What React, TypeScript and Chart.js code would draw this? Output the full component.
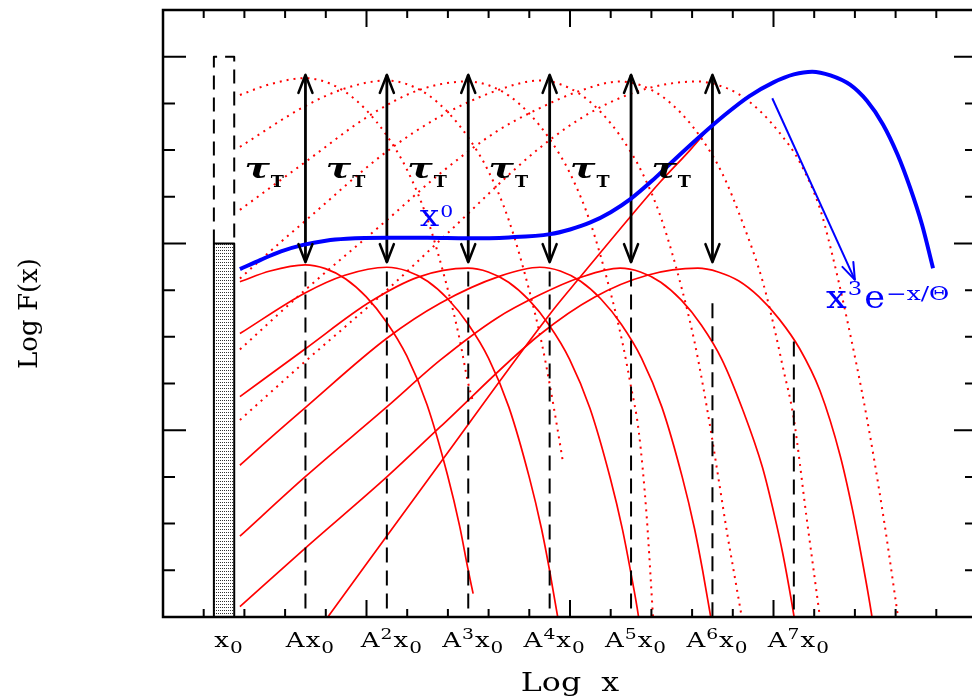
import React, { useEffect, useRef } from 'react';
import { Chart, registerables } from 'chart.js';
Chart.register(...registerables);

type P = [number, number];

// ---- axes (log units; minor tick = 1) ----
const X_MIN = 0, X_MAX = 20, Y_MIN = 0, Y_MAX = 13;
const X_MAJOR_EVERY = 5, Y_MAJOR_EVERY = 4;
const X_LABEL_POS = [1.5, 3.5, 5.5, 7.5, 9.5, 11.5, 13.5, 15.5];
const X_LABELS = ['x₀', 'Ax₀', 'A²x₀', 'A³x₀', 'A⁴x₀', 'A⁵x₀', 'A⁶x₀', 'A⁷x₀'];
const X_TITLE = 'Log  x';
const Y_TITLE = 'Log F(x)';

// ---- total (Comptonized) spectrum ----
const BLUE_TOTAL: P[] = [[1.89,7.45],[2.4,7.65],[2.9,7.83],[3.44,7.97],[4.0,8.06],[4.51,8.1],[5.5,8.12],[6.5,8.12],[7.46,8.11],[8.5,8.13],[9.51,8.2],[10.0,8.3],[10.5,8.45],[11.0,8.67],[11.5,8.96],[12.0,9.33],[12.5,9.74],[13.19,10.29],[13.8,10.75],[14.4,11.15],[15.0,11.45],[15.5,11.62],[15.95,11.68],[16.4,11.6],[16.88,11.4],[17.3,11.05],[17.69,10.55],[18.05,9.9],[18.35,9.21],[18.65,8.4],[18.92,7.47]];
const BLUE_POINTER: P[] = [[14.97,11.11],[17.0,7.22]];

// ---- k-th scattering order spectra (solid) ----
const SOLID_K1: P[] = [[1.89,7.18],[2.63,7.41],[3.49,7.54],[3.99,7.46],[4.49,7.24],[4.99,6.86],[5.49,6.32],[5.99,5.59],[6.49,4.54],[6.99,3.04],[7.29,1.94],[7.49,1.04],[7.62,0.5]];
const SOLID_K2: P[] = [[1.89,6.07],[3.49,6.94],[4.47,7.32],[5.50,7.49],[6.0,7.41],[6.5,7.19],[7.0,6.81],[7.5,6.27],[8.0,5.54],[8.5,4.49],[9.0,2.99],[9.3,1.89],[9.5,0.99],[9.7,-0.01],[9.83,-0.7]];
const SOLID_K3: P[] = [[1.89,4.72],[3.49,5.74],[5.09,6.75],[6.27,7.28],[7.49,7.47],[7.99,7.39],[8.49,7.17],[8.99,6.79],[9.49,6.25],[9.99,5.52],[10.49,4.47],[10.99,2.97],[11.29,1.87],[11.49,0.97],[11.69,-0.03],[11.8,-0.8]];
const SOLID_K4: P[] = [[1.89,3.25],[2.58,3.79],[3.49,4.48],[5.50,5.97],[6.81,6.72],[8.28,7.30],[9.26,7.49],[9.76,7.41],[10.26,7.19],[10.76,6.81],[11.26,6.27],[11.76,5.54],[12.26,4.49],[12.76,2.99],[13.06,1.89],[13.26,0.99],[13.46,-0.01],[13.6,-0.7]];
const SOLID_K5: P[] = [[1.89,1.73],[3.49,3.0],[5.50,4.5],[6.81,5.5],[8.2,6.4],[9.26,6.9],[10.25,7.27],[11.23,7.47],[11.73,7.39],[12.23,7.17],[12.73,6.79],[13.23,6.25],[13.73,5.52],[14.23,4.47],[14.73,3.2],[15.03,2.15],[15.23,1.35],[15.45,0.3],[15.6,-0.5]];
const SOLID_K6: P[] = [[1.89,0.22],[3.49,1.47],[5.50,3.00],[6.81,4.07],[9.26,6.05],[10.6,6.85],[11.9,7.32],[13.14,7.47],[13.64,7.39],[14.14,7.2],[14.64,6.86],[15.14,6.38],[15.64,5.75],[16.14,4.85],[16.64,3.45],[16.94,2.3],[17.14,1.4],[17.42,0],[17.5,-0.5]];

// ---- same orders before the tau_T reduction (dotted) ----
const DOT_K1: P[] = [[1.89,11.18],[2.63,11.41],[3.49,11.54],[3.99,11.46],[4.49,11.24],[4.99,10.86],[5.49,10.32],[5.99,9.59],[6.49,8.54],[6.99,7.04],[7.29,5.94],[7.49,5.04],[7.62,4.6]];
const DOT_K2: P[] = [[1.89,10.07],[3.49,10.94],[4.47,11.32],[5.50,11.49],[6.0,11.41],[6.5,11.19],[7.0,10.81],[7.5,10.27],[8.0,9.54],[8.5,8.49],[9.0,6.99],[9.3,5.89],[9.5,4.99],[9.7,3.99],[9.83,3.3]];
const DOT_K3: P[] = [[1.89,8.72],[3.49,9.74],[5.09,10.75],[6.27,11.28],[7.49,11.47],[7.99,11.39],[8.49,11.17],[8.99,10.79],[9.49,10.25],[9.99,9.52],[10.49,8.47],[10.99,6.97],[11.29,5.87],[11.49,4.97],[11.69,3.97],[11.88,2.2],[12.04,0]];
const DOT_K4: P[] = [[1.89,7.25],[2.58,7.79],[3.49,8.48],[5.50,9.97],[6.81,10.72],[8.28,11.30],[9.26,11.49],[9.76,11.41],[10.26,11.19],[10.76,10.81],[11.26,10.27],[11.76,9.54],[12.26,8.49],[12.76,6.99],[13.06,5.89],[13.26,4.99],[13.46,3.99],[13.66,2.9],[13.86,1.8],[14.06,0.8],[14.22,0]];
const DOT_K5: P[] = [[1.89,5.73],[3.49,7.0],[5.50,8.5],[6.81,9.5],[8.2,10.4],[9.26,10.9],[10.25,11.27],[11.23,11.47],[11.73,11.39],[12.23,11.17],[12.73,10.79],[13.23,10.25],[13.73,9.52],[14.23,8.47],[14.73,7.2],[15.03,6.15],[15.23,5.35],[15.49,4.29],[15.81,2.15],[16.14,0]];
const DOT_K6: P[] = [[1.89,4.22],[3.49,5.47],[5.50,7.00],[6.81,8.07],[9.26,10.05],[10.6,10.85],[11.9,11.32],[13.14,11.47],[13.64,11.39],[14.14,11.2],[14.64,10.86],[15.14,10.38],[15.64,9.75],[16.14,8.75],[16.39,7.95],[16.8,6.4],[17.29,4.28],[17.70,2.15],[18.06,0]];

// ---- rising straight-ish component joining the total spectrum ----
const RISING_LINE: P[] = [[4.05,0],[6.81,3.30],[9.58,6.57],[10.25,7.28],[11.52,8.61],[12.21,9.31],[12.95,10.0],[13.5,10.55]];

// ---- arrows and markers ----
const ARROW_X = [3.5, 5.5, 7.5, 9.5, 11.5, 13.5];
const ARROW_TOP = 11.61;
const ARROW_BOTTOM = 7.6;
const DASH_X = [3.5, 5.5, 7.5, 9.5, 11.5, 13.5, 15.5];
const DASH_TOP = [7.4, 7.4, 7.4, 7.4, 7.4, 6.72, 5.9];
const SEED_X = [1.25, 1.75];
const SEED_TOP = 8;
const SEED_ENVELOPE_TOP = 12;
const TAU_X = [2, 4, 6, 8, 10, 12];
const TAU_Y = 9.4;
const X0_LABEL_AT: P = [6.31, 8.37];
const WIEN_LABEL_AT: P = [16.29, 6.62];

const RED = '#ff0000';
const BLUE = '#0000ff';
const FAMILY = '"DejaVu Serif", serif';

type Run = { t: string; size: number; dy?: number; weight?: string; style?: string; sx?: number; gap?: number };
const fontOf = (r: Run) => `${r.style ?? 'normal'} ${r.weight ?? 'normal'} ${r.size}px ${FAMILY}`;
function runW(ctx: CanvasRenderingContext2D, r: Run) {
  ctx.font = fontOf(r);
  return ctx.measureText(r.t).width * (r.sx ?? 1) + (r.gap ?? 0);
}
function drawRuns(ctx: CanvasRenderingContext2D, x: number, y: number, runs: Run[], color: string, align: 'left' | 'center' = 'left') {
  const total = runs.reduce((s, r) => s + runW(ctx, r), 0);
  let cx = align === 'center' ? x - total / 2 : x;
  for (const r of runs) {
    const w = runW(ctx, r);
    ctx.save();
    ctx.font = fontOf(r);
    ctx.fillStyle = color;
    ctx.textBaseline = 'alphabetic';
    ctx.textAlign = 'left';
    ctx.translate(cx, y + (r.dy ?? 0));
    ctx.scale(r.sx ?? 1, 1);
    ctx.fillText(r.t, 0, 0);
    ctx.restore();
    cx += w;
  }
}
const SUBS: Record<string, string> = { '₀': '0' };
const SUPS: Record<string, string> = { '²': '2', '³': '3', '⁴': '4', '⁵': '5', '⁶': '6', '⁷': '7' };
function labelRuns(label: string): Run[] {
  return Array.from(label).map((ch) => {
    if (SUBS[ch]) return { t: SUBS[ch], size: 16, dy: 6, sx: 1.25, gap: 1 };
    if (SUPS[ch]) return { t: SUPS[ch], size: 15, dy: -8, sx: 1.25, gap: 1 };
    return { t: ch, size: 20, sx: 1.3, gap: 1 };
  });
}

function arrowHead(ctx: CanvasRenderingContext2D, tx: number, ty: number, fx: number, fy: number, len: number, half: number, color: string, width: number) {
  const dx = tx - fx, dy = ty - fy;
  const d = Math.hypot(dx, dy) || 1;
  const ux = dx / d, uy = dy / d;
  const bx = tx - ux * len, by = ty - uy * len;
  ctx.save();
  ctx.strokeStyle = color;
  ctx.lineWidth = width;
  ctx.lineCap = 'round';
  ctx.lineJoin = 'round';
  ctx.beginPath();
  ctx.moveTo(bx - uy * half, by + ux * half);
  ctx.lineTo(tx, ty);
  ctx.lineTo(bx + uy * half, by - ux * half);
  ctx.stroke();
  ctx.restore();
}

const decor = {
  id: 'decor',
  afterDatasetsDraw(chart: any) {
    const { ctx, chartArea: ca, scales } = chart;
    const xs = scales.x, ys = scales.y;
    const px = (u: number) => xs.getPixelForValue(u);
    const py = (v: number) => ys.getPixelForValue(v);
    ctx.save();
    ARROW_X.forEach((u) => {
      arrowHead(ctx, px(u), py(ARROW_TOP), px(u), py(ARROW_BOTTOM), 18, 7, '#000', 2.6);
      arrowHead(ctx, px(u), py(ARROW_BOTTOM), px(u), py(ARROW_TOP), 18, 7, '#000', 2.6);
    });
    arrowHead(ctx, px(BLUE_POINTER[1][0]), py(BLUE_POINTER[1][1]), px(BLUE_POINTER[0][0]), py(BLUE_POINTER[0][1]), 17, 6, BLUE, 2);

    ctx.strokeStyle = '#000';
    ctx.lineWidth = 2.5;
    ctx.strokeRect(ca.left, ca.top, ca.right - ca.left, ca.bottom - ca.top);
    ctx.lineWidth = 2;
    ctx.beginPath();
    for (let i = X_MIN; i <= X_MAX; i++) {
      const x = px(i);
      const len = i % X_MAJOR_EVERY === 0 ? 17 : 8;
      ctx.moveTo(x, ca.bottom); ctx.lineTo(x, ca.bottom - len);
      ctx.moveTo(x, ca.top); ctx.lineTo(x, ca.top + len);
    }
    for (let j = Y_MIN; j <= Y_MAX; j++) {
      const y = py(j);
      const len = j % Y_MAJOR_EVERY === 0 ? 23 : 12;
      ctx.moveTo(ca.left, y); ctx.lineTo(ca.left + len, y);
      ctx.moveTo(ca.right, y); ctx.lineTo(ca.right - len, y);
    }
    ctx.stroke();

    X_LABEL_POS.forEach((u, i) => {
      drawRuns(ctx, px(u) + 5, ca.bottom + 30, labelRuns(X_LABELS[i]), '#000', 'center');
    });
    drawRuns(ctx, (ca.left + ca.right) / 2, ca.bottom + 74, [{ t: X_TITLE, size: 26, sx: 1.22 }], '#000', 'center');
    ctx.save();
    ctx.translate(37, (ca.top + ca.bottom) / 2);
    ctx.rotate(-Math.PI / 2);
    drawRuns(ctx, 0, 0, [{ t: Y_TITLE, size: 26 }], '#000', 'center');
    ctx.restore();

    TAU_X.forEach((u) => {
      drawRuns(ctx, px(u), py(TAU_Y), [
        { t: 'τ', size: 28, style: 'italic', weight: 'bold', sx: 1.35, gap: 1 },
        { t: 'T', size: 16, weight: 'bold', dy: 9, sx: 1.1 },
      ], '#000');
    });
    drawRuns(ctx, px(X0_LABEL_AT[0]), py(X0_LABEL_AT[1]), [
      { t: 'x', size: 30, sx: 1.15, gap: 1 },
      { t: '0', size: 17, dy: -9, sx: 1.2 },
    ], BLUE);
    drawRuns(ctx, px(WIEN_LABEL_AT[0]), py(WIEN_LABEL_AT[1]), [
      { t: 'x', size: 32, sx: 1.15, gap: 1 },
      { t: '3', size: 19, dy: -13, sx: 1.2, gap: 2 },
      { t: 'e', size: 32, sx: 1.1, gap: 1 },
      { t: '−x/Θ', size: 19, dy: -8, sx: 1.3 },
    ], BLUE);
    ctx.restore();
  },
};

export default function App() {
  const ref = useRef<HTMLCanvasElement | null>(null);
  useEffect(() => {
    if (!ref.current) return;
    const tile = document.createElement('canvas');
    tile.width = 2; tile.height = 3;
    const tctx = tile.getContext('2d')!;
    tctx.fillStyle = '#fff'; tctx.fillRect(0, 0, 2, 3);
    tctx.fillStyle = '#333'; tctx.fillRect(0, 1, 1, 1);
    const pattern = ref.current.getContext('2d')!.createPattern(tile, 'repeat');

    const xy = (a: P[]) => a.map(([x, y]) => ({ x, y }));
    const base = { type: 'line', pointRadius: 0, pointHoverRadius: 0, fill: false, borderCapStyle: 'butt', borderJoinStyle: 'round' };
    const curve = (a: P[], color: string, width: number, dash: number[] = []) => ({
      ...base, data: xy(a), borderColor: color, borderWidth: width, borderDash: dash, cubicInterpolationMode: 'monotone',
    });
    const straight = (a: P[], color: string, width: number, dash: number[] = []) => ({
      ...base, data: xy(a), borderColor: color, borderWidth: width, borderDash: dash, tension: 0,
    });

    const bottomToTop: any[] = [];
    bottomToTop.push({
      ...straight([[SEED_X[0], 0], [SEED_X[0], SEED_TOP], [SEED_X[1], SEED_TOP], [SEED_X[1], 0]], '#000', 2),
      fill: 'origin', backgroundColor: pattern,
    });
    bottomToTop.push(straight([[SEED_X[0], SEED_TOP], [SEED_X[0], SEED_ENVELOPE_TOP], [SEED_X[1], SEED_ENVELOPE_TOP], [SEED_X[1], SEED_TOP]], '#000', 2, [14, 8]));
    [DOT_K1, DOT_K2, DOT_K3, DOT_K4, DOT_K5, DOT_K6].forEach((d) => bottomToTop.push(curve(d, RED, 2, [2, 5])));
    [SOLID_K1, SOLID_K2, SOLID_K3, SOLID_K4, SOLID_K5, SOLID_K6].forEach((d) => bottomToTop.push(curve(d, RED, 1.7)));
    bottomToTop.push(curve(RISING_LINE, RED, 1.7));
    DASH_X.forEach((u, i) => bottomToTop.push(straight([[u, DASH_TOP[i]], [u, 0]], '#000', 2, [15, 8])));
    ARROW_X.forEach((u) => bottomToTop.push(straight([[u, ARROW_BOTTOM], [u, ARROW_TOP]], '#000', 2.8)));
    bottomToTop.push(straight(BLUE_POINTER, BLUE, 2));
    bottomToTop.push(curve(BLUE_TOTAL, BLUE, 4));

    const chart = new Chart(ref.current, {
      type: 'line',
      data: { datasets: bottomToTop.reverse() },
      options: {
        animation: false,
        responsive: false,
        devicePixelRatio: 1,
        layout: { padding: { left: 163, top: 10, right: 3, bottom: 83 } },
        scales: {
          x: { type: 'linear', min: X_MIN, max: X_MAX, display: false },
          y: { type: 'linear', min: Y_MIN, max: Y_MAX, display: false },
        },
        plugins: { legend: { display: false }, tooltip: { enabled: false } },
        events: [],
      },
      plugins: [decor],
    } as any);
    return () => chart.destroy();
  }, []);

  return (
    <div style={{ position: 'fixed', left: 0, top: 0, width: 972, height: 700, overflow: 'hidden', background: '#fff' }}>
      <canvas ref={ref} width={980} height={700} style={{ display: 'block' }} />
    </div>
  );
}
